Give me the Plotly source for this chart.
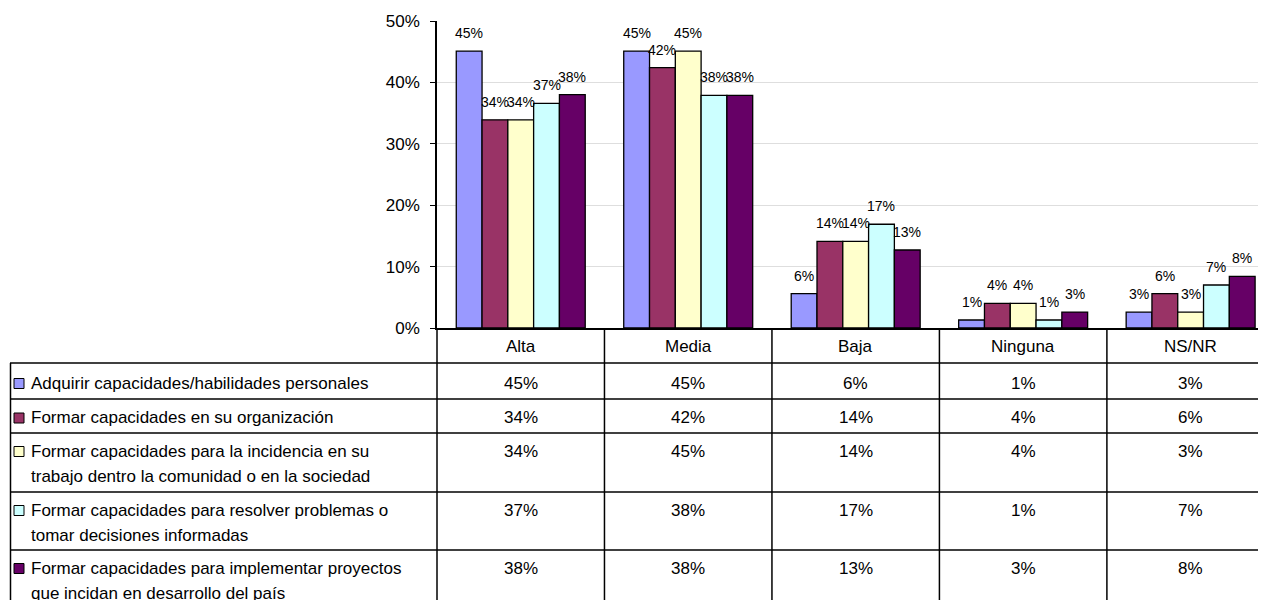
import plotly.graph_objects as go

# ---------------- data ----------------
categories = ["Alta", "Media", "Baja", "Ninguna", "NS/NR"]

series_names = [
    "Adquirir capacidades/habilidades personales",
    "Formar capacidades en su organización",
    "Formar capacidades para la incidencia en su trabajo dentro la comunidad o en la sociedad",
    "Formar capacidades para resolver problemas o tomar decisiones informadas",
    "Formar capacidades para implementar proyectos que incidan en desarrollo del país",
]
legend_lines = [
    ["Adquirir capacidades/habilidades personales"],
    ["Formar capacidades en su organización"],
    ["Formar capacidades para la incidencia en su", "trabajo dentro la comunidad o en la sociedad"],
    ["Formar capacidades para resolver problemas o", "tomar decisiones informadas"],
    ["Formar capacidades para implementar proyectos", "que incidan en desarrollo del país"],
]

adquirir = [0.451, 0.451, 0.056, 0.013, 0.026]
organizacion = [0.339, 0.424, 0.141, 0.040, 0.056]
incidencia = [0.339, 0.451, 0.141, 0.040, 0.026]
resolver = [0.366, 0.379, 0.169, 0.013, 0.070]
implementar = [0.380, 0.379, 0.127, 0.026, 0.084]
series_values = [adquirir, organizacion, incidencia, resolver, implementar]

y_ticks = [0, 0.1, 0.2, 0.3, 0.4, 0.5]

# ---------------- styles ----------------
colors = ["#9999FF", "#993366", "#FFFFCC", "#CCFFFF", "#660066"]
FONT = "Liberation Sans, Arial, sans-serif"
OFF = 8                              # page body margin of the html page
W, H = 1266 - OFF, 600 - OFF         # figure size so the page fits the window
# positions below are given in window pixels; converted with OFF
PL, PT, PB = 437 - OFF, 21 - OFF, 328 - OFF
PW = W - PL
BARGAP = 0.23
NS = len(series_names)
bw = (1 - BARGAP) / NS


def yp(px):
    return (PB - (px - OFF)) / (PB - PT)


def xp(px):
    return ((px - OFF) - PL) / PW


fig = go.Figure()
for name, vals, col in zip(series_names, series_values, colors):
    fig.add_trace(go.Bar(
        x=categories, y=vals, name=name,
        marker=dict(color=col, line=dict(color="black", width=1.3)),
        showlegend=False, hoverinfo="skip",
    ))

annotations = []
# data labels
for i, vals in enumerate(series_values):
    for k, v in enumerate(vals):
        annotations.append(dict(
            x=k + (i - (NS - 1) / 2) * bw, y=v, xref="x", yref="y",
            text=f"{v:.0%}", showarrow=False, yanchor="middle", yshift=18,
            font=dict(size=14, color="black", family=FONT),
        ))

# table layout (window pixels)
rows = [(363, 399), (399, 433), (433, 492), (492, 550), (550, 608)]
first_line = [383, 417.5, 451, 510, 568]
LINE_STEP = 25
shapes = []
# header labels
for k, c in enumerate(categories):
    annotations.append(dict(x=k, y=yp(346), xref="x", yref="paper", text=c,
                            showarrow=False, yanchor="middle",
                            font=dict(size=17, color="black", family=FONT)))
# rows
for r, (lines, vals) in enumerate(zip(legend_lines, series_values)):
    y0 = first_line[r]
    for j, ln in enumerate(lines):
        annotations.append(dict(x=xp(29), y=yp(y0 + j * LINE_STEP), xref="paper", yref="paper",
                                text=ln, showarrow=False, xanchor="left", yanchor="middle",
                                font=dict(size=17, color="black", family=FONT)))
    for k, v in enumerate(vals):
        annotations.append(dict(x=k, y=yp(y0), xref="x", yref="paper", text=f"{v:.0%}",
                                showarrow=False, yanchor="middle",
                                font=dict(size=17, color="black", family=FONT)))
    shapes.append(dict(type="rect", xref="paper", yref="paper",
                       x0=xp(14), x1=xp(24), y0=yp(y0 + 5.5), y1=yp(y0 - 4.5),
                       fillcolor=colors[r], line=dict(color="black", width=1)))

LW = 1.5
# horizontal table lines
for (top, _) in rows:
    shapes.append(dict(type="line", xref="paper", yref="paper", x0=xp(10), x1=1.02,
                       y0=yp(top), y1=yp(top), line=dict(color="black", width=LW)))
# vertical lines
shapes.append(dict(type="line", xref="paper", yref="paper", x0=xp(10.5), x1=xp(10.5),
                   y0=yp(363), y1=yp(620), line=dict(color="black", width=LW)))
shapes.append(dict(type="line", xref="paper", yref="paper", x0=0, x1=0,
                   y0=0, y1=yp(620), line=dict(color="black", width=LW)))
for k in range(len(categories) - 1):
    shapes.append(dict(type="line", xref="x", yref="paper", x0=k + 0.5, x1=k + 0.5,
                       y0=0, y1=yp(620), line=dict(color="black", width=LW)))

fig.update_layout(
    width=W, height=H,
    margin=dict(l=PL, r=0, t=PT, b=H - PB, pad=0),
    paper_bgcolor="white", plot_bgcolor="white",
    barmode="group", bargap=BARGAP, bargroupgap=0,
    font=dict(family=FONT, color="black"),
    annotations=annotations, shapes=shapes,
    xaxis=dict(type="category", range=[-0.5, 4.45], showticklabels=False, ticks="",
               showline=True, linecolor="black", linewidth=LW, showgrid=False, zeroline=False,
               fixedrange=True),
    yaxis=dict(range=[0, 0.5], tickvals=y_ticks, tickformat=".0%", ticks="outside",
               ticklen=5, tickcolor="black", tickwidth=1.3, showline=True, linecolor="black",
               linewidth=LW, gridcolor="#dedede", gridwidth=1, zeroline=False,
               tickfont=dict(size=17, family=FONT, color="black"), ticklabelstandoff=7,
               fixedrange=True),
)

fig.write_html("out.html", config={"displayModeBar": False})
